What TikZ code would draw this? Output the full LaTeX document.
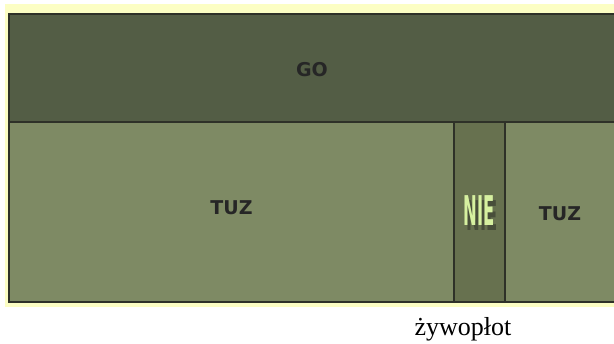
\documentclass[tikz,border=0pt]{standalone}
\usepackage{fontspec}
\usepackage{graphicx}
\setmainfont{Liberation Serif}
\newfontfamily\cellfont{DejaVu Sans}
\usetikzlibrary{positioning}

\definecolor{hedgeyellow}{HTML}{FCFEC4}
\definecolor{framedark}{HTML}{2E3128}
\definecolor{gotop}{HTML}{535D45}
\definecolor{tuzfield}{HTML}{7E8A64}
\definecolor{niefield}{HTML}{67714F}
\definecolor{nietext}{HTML}{D6F0A0}

\tikzset{
  cell/.style={draw=framedark, line width=2pt, inner sep=0pt, anchor=north west,
    font=\cellfont\bfseries\fontsize{19}{19}\selectfont, text=black!85},
  celltext/.style={font=\cellfont\bfseries\fontsize{19}{19}\selectfont, text=black!85},
  niefont/.style={font=\cellfont\bfseries\fontsize{41}{41}\selectfont, inner sep=0pt}
}

\begin{document}
\begin{tikzpicture}[x=1pt, y=-1pt]
\useasboundingbox (0,0) rectangle (614,344);
% yellow surround
\fill[hedgeyellow] (5,4) rectangle (620,307);
% the field cells
\node[cell, fill=gotop, minimum width=608pt, minimum height=108pt] (go) at (8,13) {};
\node[cell, fill=tuzfield, minimum width=445pt, minimum height=180pt] (tuzL) at (8,121) {};
\node[cell, fill=niefield, minimum width=51pt, minimum height=180pt] (nie) at (453,121) {};
\node[cell, fill=tuzfield, minimum width=112pt, minimum height=180pt] (tuzR) at (504,121) {};
\node[celltext] (gotext) at ([xshift=-1pt, yshift=-2pt]go.center) {GO};
\node[celltext] (tuzLtext) at ([yshift=4pt]tuzL.center) {TUZ};
\node[celltext] (tuzRtext) at ([xshift=-1pt, yshift=-2pt]tuzR.center) {TUZ};
% NIE with its shadow
\node[niefont, text=framedark!55!niefield] (nieshadow) at ([xshift=3pt, yshift=-4pt]nie.center) {\scalebox{0.40}[1]{NIE}};
\node[niefont, text=nietext] (nietext) at ([yshift=1pt]nie.center) {\scalebox{0.40}[1]{NIE}};
% caption
\node[font=\fontsize{26}{26}\selectfont] (hedge) at (463,329) {żywopłot};
\end{tikzpicture}
\end{document}
